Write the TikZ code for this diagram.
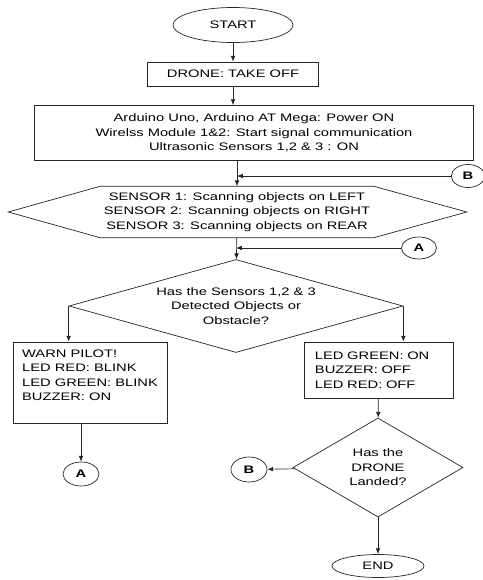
\documentclass[tikz,border=0pt]{standalone}
\usepackage{fontspec}
\setmainfont[FakeStretch=1.35]{Liberation Sans}
\usetikzlibrary{shapes.geometric,arrows.meta}

\begin{document}
\begin{tikzpicture}[x=0.03cm, y=-0.03cm,
    every node/.style={font=\fontsize{9.3}{12.3}\selectfont, text=black},
    term/.style={draw=black!85, line width=0.6pt, ellipse, inner sep=0pt},
    box/.style={draw=black!85, line width=0.6pt, rectangle, inner sep=0pt},
    decision/.style={draw=black!85, line width=0.6pt, diamond, inner sep=0pt, align=center},
    conn/.style={draw=black!85, line width=0.6pt, ellipse, inner sep=0pt, font=\fontsize{9.3}{12.3}\selectfont\bfseries},
    arr/.style={draw=black!85, line width=0.6pt, -{Latex[length=5pt,width=4pt]}}]

    \useasboundingbox (0,0) rectangle (483,580);

    % Start and power up
    \node[term, minimum width=3.6cm, minimum height=1.05cm] (start) at (233,25) {START};
    \node[box, minimum width=5.13cm, minimum height=0.72cm] (takeoff) at (233,74) {DRONE: TAKE OFF};
    \node[box, minimum width=13.17cm, minimum height=1.65cm, align=center] (power) at (254,133)
        {Arduino Uno, Arduino AT Mega: Power ON\\ Wirelss Module 1\&2: Start signal communication\\ Ultrasonic Sensors 1,2 \& 3 : ON};

    % Scanning (hexagon drawn round the node)
    \node[minimum width=8.19cm, minimum height=1.53cm, inner sep=0pt, align=center] (scan) at (237,212)
        {SENSOR 1: Scanning objects on LEFT\\ SENSOR 2: Scanning objects on RIGHT\\ SENSOR 3: Scanning objects on REAR};
    \draw[black!85, line width=0.6pt] (scan.north west) -- (scan.north east) -- ([xshift=2.79cm]scan.east)
        -- (scan.south east) -- (scan.south west) -- ([xshift=-2.76cm]scan.west) -- cycle;

    % Connectors coming back in
    \node[conn, minimum width=1.0cm, minimum height=0.69cm] (b1) at (468,176) {B};
    \node[conn, minimum width=1.05cm, minimum height=0.66cm] (a1) at (419,248) {A};

    % Decision on obstacles
    \node[decision, minimum width=10.02cm, minimum height=2.79cm, aspect=3.6] (decide) at (236,306)
        {Has the Sensors 1,2 \& 3\\ Detected Objects or\\ Obstacle?};
    \node[box, minimum width=4.62cm, minimum height=2.43cm, align=left] (warn) at (90,382.5)
        {WARN PILOT!\\ LED RED: BLINK\\ LED GREEN: BLINK\\ BUZZER: ON\\ \mbox{}};
    \node[box, minimum width=4.47cm, minimum height=1.68cm, text width=3.81cm, align=left] (ok) at (378.5,370)
        {LED GREEN: ON\\ BUZZER: OFF\\ LED RED: OFF};
    \node[conn, minimum width=1.08cm, minimum height=0.72cm] (a2) at (81,474) {A};

    % Landing check and end
    \node[decision, minimum width=5.1cm, minimum height=2.97cm, aspect=1.7] (landed) at (378,467.5)
        {Has the\\ DRONE\\ Landed?};
    \node[conn, minimum width=1.08cm, minimum height=0.75cm] (b2) at (249,469.5) {B};
    \node[term, minimum width=2.76cm, minimum height=0.69cm] (stop) at (378,566) {END};

    % Arrows
    \draw[arr] (start) -- (takeoff);
    \draw[arr] (takeoff) -- (takeoff |- power.north);
    \draw[arr] (power.south -| scan) -- (scan.north);
    \draw[arr] (b1) -- (b1 -| scan.north);
    \draw[arr] (scan) -- (decide);
    \draw[arr] (a1) -- (a1 -| decide.north);
    \draw[arr] (decide.west) -- (decide.west |- warn.north);
    \draw[arr] (decide.east) -- (decide.east |- ok.north);
    \draw[arr] (warn.south -| a2) -- (a2);
    \draw[arr] (ok) -- (landed);
    \draw[arr] (landed) -- (b2);
    \draw[arr] (landed) -- (stop);

\end{tikzpicture}
\end{document}
